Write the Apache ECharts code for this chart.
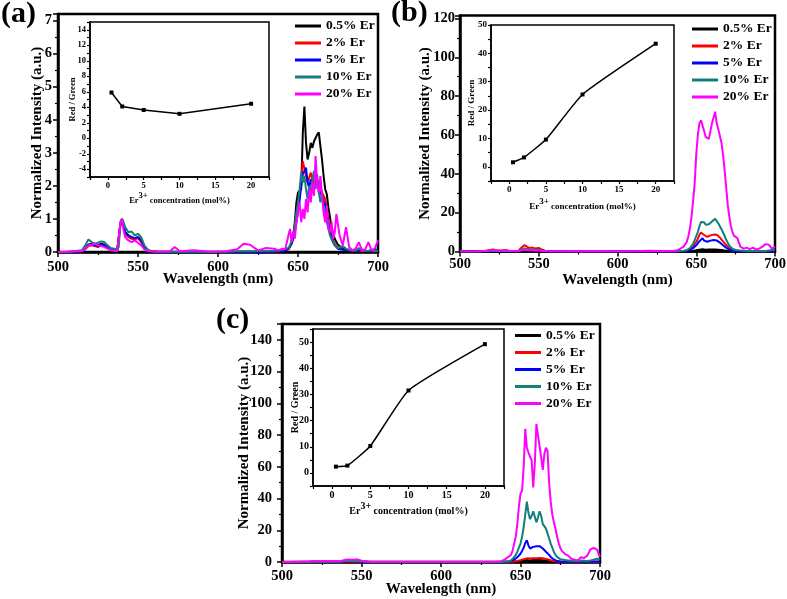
<!DOCTYPE html>
<html><head><meta charset="utf-8">
<script src="https://cdn.jsdelivr.net/npm/echarts/dist/echarts.min.js"></script>
<style>html,body{margin:0;padding:0;background:#fff}#c{width:787px;height:599px}</style>
</head><body><div id="c"></div>
<script>
// ---------- DATA ----------
const wavelength = [
  500,505,510,515,
  517,519,521,523,525,527,529,531,533,535,537,
  538,539,540,541,542,
  544,546,548,550,552,554,556,558,
  562,570,573,576,585,595,605,612,616,620,625,630,635,638,
  640,642,644,
  645,646,647,648,649,650,651,652,653,654,655,656,657,658,659,660,661,662,663,664,665,666,667,668,669,670,671,672,673,674,675,676,
  678,680,682,684,686,688,690,692,694,696,698,700
];
const seriesNames = ['0.5% Er','2% Er','5% Er','10% Er','20% Er'];

// Panel (a)
const a_er05 = [0,0,0.01,0.03, 0.1,0.22,0.25,0.22,0.2,0.25,0.22,0.15,0.1,0.08,0.05, 0.1,0.85,1.0,0.8,0.6, 0.5,0.45,0.42,0.45,0.35,0.15,0.05,0.02, 0.01,0,0,0,0,0,0,0,0.01,0.01,0,0.01,0.02,0.03, 0.04,0.06,0.1,
  0.18,0.3,0.5,0.9,1.5,1.8,1.85,1.9,3.6,4.4,3.3,2.8,3.0,3.3,3.15,3.35,3.3,3.55,3.62,3.2,2.8,2.3,1.9,1.75,1.35,1.05,0.75,0.55,0.4,0.3,0.22,0.16,
  0.1,0.08,0.06,0.05,0.05,0.04,0.04,0.03,0.03,0.03,0.03,0.03];
const a_er2 = [0,0,0,0.02, 0.08,0.18,0.2,0.18,0.15,0.2,0.18,0.12,0.08,0.05,0.04, 0.08,0.8,0.95,0.75,0.55, 0.45,0.4,0.38,0.42,0.3,0.12,0.04,0.02, 0.01,0,0,0,0,0,0,0,0,0,0,0.01,0.01,0.02, 0.03,0.05,0.08,
  0.15,0.25,0.4,0.7,1.0,1.35,1.7,2.2,2.75,2.8,2.3,2.1,2.25,2.4,2.2,2.1,2.25,2.3,2.1,2.0,1.8,1.7,1.6,1.3,0.95,0.7,0.5,0.35,0.25,0.18,0.12,0.1,
  0.08,0.06,0.05,0.04,0.04,0.03,0.03,0.03,0.03,0.02,0.02,0.02];
const a_er5 = [0,0,0,0.02, 0.1,0.22,0.22,0.2,0.18,0.22,0.2,0.13,0.08,0.06,0.05, 0.1,0.85,1.0,0.78,0.6, 0.5,0.45,0.42,0.45,0.35,0.15,0.05,0.02, 0.01,0,0,0,0,0,0,0,0,0,0,0.01,0.01,0.02, 0.03,0.05,0.1,
  0.15,0.25,0.4,0.6,0.9,1.2,1.55,2.0,2.35,2.4,2.55,2.1,1.95,2.2,2.1,2.0,2.2,2.15,1.9,1.85,1.7,1.55,1.4,1.15,0.85,0.6,0.42,0.3,0.2,0.15,0.1,0.08,
  0.07,0.06,0.05,0.05,0.04,0.04,0.08,0.04,0.03,0.03,0.1,0.03];
const a_er10 = [0,0,0.02,0.05, 0.2,0.38,0.3,0.25,0.28,0.32,0.3,0.2,0.12,0.1,0.08, 0.15,0.9,1.0,0.9,0.75, 0.6,0.62,0.5,0.55,0.45,0.2,0.08,0.03, 0.02,0.01,0.01,0.01,0.01,0.01,0.01,0.02,0.02,0.02,0.03,0.03,0.04,0.05, 0.06,0.1,0.12,
  0.2,0.35,0.5,0.8,1.2,1.5,1.9,2.4,2.1,2.3,1.9,1.6,2.0,1.75,2.2,2.45,1.9,2.35,1.8,1.5,1.75,1.3,1.1,0.9,0.7,0.5,0.38,0.28,0.2,0.15,0.12,0.1,
  0.18,0.1,0.06,0.05,0.04,0.12,0.05,0.04,0.03,0.08,0.03,0.04];
const a_er20 = [0,0,0.02,0.03, 0.1,0.2,0.22,0.25,0.2,0.18,0.15,0.1,0.05,0.04,0.03, 0.05,0.9,1.0,0.65,0.45, 0.35,0.3,0.35,0.28,0.2,0.08,0.03,0.02, 0.01,0.02,0.15,0.02,0.05,0.01,0.02,0.08,0.25,0.22,0.05,0.12,0.1,0.05, 0.1,0.08,0.5,
  0.7,0.3,0.6,0.4,0.9,1.2,1.5,0.9,1.3,1.0,1.6,1.2,1.9,1.5,2.1,1.7,2.9,2.0,1.8,2.3,1.7,1.2,0.9,1.4,0.7,0.6,0.9,0.4,0.6,1.15,1.1,0.5,
  0.2,0.75,0.15,0.05,0.1,0.3,0.05,0.08,0.3,0.05,0.1,0.35];

// Panel (b)
const b_er05 = [0,0,0,0, 0.1,0.1,0.1,0.1,0.1,0.1,0.1,0.1,0.1,0.1,0.1, 0.1,0.3,0.4,0.3,0.2, 0.2,0.2,0.2,0.15,0.1,0.05,0,0, 0,0,0,0,0,0,0,0,0,0,0,0,0,0, 0,0,0,
  0.1,0.15,0.2,0.3,0.4,0.6,0.7,0.9,1.0,1.1,1.0,0.9,0.9,1.0,1.0,1.0,1.0,1.05,1.0,0.9,0.85,0.75,0.6,0.5,0.4,0.3,0.2,0.15,0.1,0.05,0.05,0,
  0,0,0,0,0,0,0,0,0,0,0,0];
const b_er2 = [0,0,0.1,0.3, 0.5,0.8,1.0,0.7,0.5,0.6,0.8,0.4,0.3,0.2,0.3, 0.6,2.0,3.0,3.3,2.6, 1.8,2.0,1.6,1.8,1.0,0.4,0.2,0.1, 0.1,0.05,0.05,0,0,0,0,0,0,0,0,0,0.05,0.1, 0.2,0.3,0.5,
  0.8,1.2,1.8,2.5,3.5,5.0,6.5,8.5,9.8,10.2,8.5,8.0,7.5,8.0,8.3,8.5,8.7,9.0,8.6,8.0,7.2,6.2,5.2,4.2,3.3,2.5,1.8,1.2,0.8,0.5,0.35,0.25,
  0.15,0.1,0.1,0.05,0.05,0.05,0.05,0.05,0.05,0.05,0.05,0.05];
const b_er5 = [0,0,0,0.1, 0.2,0.3,0.3,0.3,0.2,0.2,0.3,0.2,0.1,0.1,0.1, 0.2,0.8,1.2,1.4,1.0, 0.8,0.8,0.7,0.7,0.4,0.2,0.1,0.05, 0.05,0,0,0,0,0,0,0,0,0,0,0,0,0.05, 0.1,0.15,0.3,
  0.5,0.8,1.2,1.7,2.4,3.2,4.2,5.3,6.3,6.8,5.6,5.2,5.0,5.3,5.6,5.8,5.9,6.1,5.7,5.2,4.6,3.9,3.2,2.5,1.9,1.4,1.0,0.7,0.45,0.3,0.2,0.15,
  0.1,0.1,0.05,0.05,0.05,0.05,0.05,0.05,0.05,0.05,0.05,0.05];
const b_er10 = [0,0,0,0.1, 0.2,0.4,0.4,0.3,0.3,0.3,0.3,0.2,0.2,0.1,0.1, 0.3,0.9,1.5,1.6,1.2, 1.0,1.0,0.8,0.9,0.5,0.2,0.1,0.05, 0.05,0.05,0,0,0,0,0,0,0,0,0,0.05,0.05,0.1, 0.2,0.4,0.7,
  1.2,1.8,2.7,4.0,5.8,7.9,10.0,13.0,15.2,15.8,15.0,13.8,13.2,14.0,15.0,15.5,16.5,16.8,15.8,14.5,13.0,11.5,9.8,8.0,6.0,4.5,3.0,2.0,1.4,1.0,0.8,0.6,
  0.5,0.4,0.3,0.3,0.2,0.3,0.3,0.2,0.3,0.5,0.8,1.0];
const b_er20 = [0,0,0,0.2, 0.3,0.5,0.8,0.6,0.4,0.5,0.6,0.3,0.2,0.2,0.2, 0.3,0.6,0.8,0.9,0.7, 0.6,0.6,0.5,0.5,0.3,0.2,0.1,0.1, 0.1,0.1,0.2,0.1,0.3,0.1,0.1,0.2,0.3,0.4,0.2,0.3,0.3,0.6, 1.5,2.5,5.0,
  7.9,12,18,26,35,50,60,66,67.5,67,62,59,60,58,62,66,69,72,66,63,62,56,50,42,33,24,18,13,10,8,7.5,7,
  2.5,1.5,2.0,1.2,2.0,1.0,1.5,2.5,3.8,3.5,1.5,2.5];

// Panel (c)
const c_er05 = [0,0,0,0, 0,0,0,0,0,0,0,0,0,0,0, 0,0.1,0.2,0.1,0.1, 0.1,0.1,0.1,0.05,0,0,0,0, 0,0,0,0,0,0,0,0,0,0,0,0,0,0, 0,0,0,
  0,0.1,0.1,0.2,0.3,0.5,0.6,0.8,1.0,1.2,1.1,1.0,1.1,1.2,1.2,1.2,1.3,1.3,1.2,1.1,1.0,0.9,0.7,0.5,0.4,0.3,0.2,0.1,0.1,0,0,0,
  0,0,0,0,0,0,0,0,0,0,0,0];
const c_er2 = [0,0,0,0, 0,0.1,0.1,0.1,0.1,0.1,0.1,0.1,0,0,0, 0.1,0.3,0.4,0.3,0.3, 0.2,0.2,0.2,0.2,0.1,0.05,0,0, 0,0,0,0,0,0,0,0,0,0,0,0,0,0, 0,0.05,0.1,
  0.2,0.3,0.4,0.6,0.9,1.2,1.5,1.8,2.1,2.3,2.2,2.2,2.3,2.4,2.4,2.4,2.5,2.5,2.4,2.3,2.1,1.9,1.7,1.4,1.1,0.8,0.6,0.4,0.3,0.2,0.1,0.1,
  0.05,0,0,0,0,0,0,0,0,0,0,0];
const c_er5 = [0,0,0,0, 0,0.1,0.1,0.1,0.1,0.1,0.1,0.1,0.1,0.1,0.1, 0.2,0.5,0.7,0.6,0.5, 0.4,0.4,0.3,0.3,0.2,0.1,0.05,0, 0,0,0,0,0,0,0,0,0,0,0,0,0,0, 0.1,0.3,0.6,
  1.0,1.5,2.2,3.0,4.0,5.2,7.0,9.0,12.0,13.7,10.5,8.5,8.8,9.5,9.0,10.0,10.5,10.0,9.5,8.5,7.5,6.5,5.5,4.5,3.2,2.2,1.6,1.0,0.6,0.4,0.3,0.2,
  0.2,0.1,0.1,0.1,0.1,0.2,0.3,0.2,0.2,0.3,0.3,0.2];
const c_er10 = [0,0,0,0, 0,0.1,0.1,0.2,0.2,0.2,0.2,0.1,0.1,0.1,0.1, 0.2,0.6,0.9,0.8,0.7, 0.6,0.6,0.5,0.4,0.3,0.1,0.05,0, 0,0,0,0,0,0,0,0,0,0,0,0,0,0, 0.2,0.5,1.0,
  2.0,3.0,4.5,6.5,9.0,11.6,16,22,30,38,31,27,29,32,31,25,28,32,29,24,23,21,18,15,11.6,9,6.3,4.5,3.2,2.2,1.8,1.5,
  1.2,1.0,0.8,0.6,0.8,1.0,0.8,0.6,1.0,1.5,2.0,1.5];
const c_er20 = [0,0,0.2,0.3, 0.3,0.4,0.4,0.5,0.4,0.5,0.6,0.5,0.4,0.5,0.6, 0.8,1.2,1.5,1.6,1.5, 1.4,1.6,1.5,0.8,0.4,0.3,0.2,0.2, 0.1,0.1,0.1,0.1,0.1,0.1,0.1,0.1,0.1,0.1,0.1,0.2,0.3,0.5, 1.5,3.0,4.5,
  7.0,11.6,16,24,35,43,45,60,84,72,69,70,64,47,62,87,80,73,66,58,68,72,70,50,38,30,25,21,16,12,9,7,
  5,4,2,1.5,1,3,2.5,4,8,8.8,8,3];

// Insets: Red/Green ratio vs Er3+ concentration
const erConcentration = [0.5, 2, 5, 10, 20];
const ratioA = [5.9, 4.1, 3.65, 3.15, 4.45];
const ratioB = [1.6, 3.3, 9.6, 25.5, 43.4];
const ratioC = [2.4, 2.8, 10.3, 31.5, 49.2];

const panelLetters = ['(a)', '(b)', '(c)'];

// ---------- CHART ----------
const all = [a_er05,a_er2,a_er5,a_er10,a_er20,b_er05,b_er2,b_er5,b_er10,b_er20,c_er05,c_er2,c_er5,c_er10,c_er20];
all.forEach((a,i)=>{ if (a.length !== wavelength.length) throw new Error('array '+i+' length '+a.length+' != '+wavelength.length); });

const FONT = '"Liberation Serif","Times New Roman",Times,serif';
const colors = ['#000000','#ff0000','#0000ff','#137f7b','#ff00ff'];
const panels = [
  [a_er05,a_er2,a_er5,a_er10,a_er20],
  [b_er05,b_er2,b_er5,b_er10,b_er20],
  [c_er05,c_er2,c_er5,c_er10,c_er20]
];

const grids = [
  {left:58, top:14, width:320, height:238},
  {left:460, top:15.5, width:315, height:236},
  {left:282, top:324, width:318, height:238},
  {left:90, top:22, width:179, height:155},
  {left:491, top:25, width:183, height:156},
  {left:313, top:329, width:191, height:157}
].map((g,i)=>Object.assign(g,{show:true, borderColor:'#000', borderWidth: i<3?2.5:1.5, backgroundColor:'transparent', containLabel:false, outerBoundsMode:'none'}));

const boldTxt = (size)=>({fontFamily:FONT, fontWeight:'bold', fontSize:size, color:'#000'});
const blackLine = (w)=>({color:'#000', width:w});

const mainXMargin = [8,5,7], mainXGap = [19.5,21.5,20];
const mainYGap = [13,27,30], mainYMargin = [6,5,10];
const mainYMax = [7.2,121.5,150], mainYInt = [1,20,20];

const xAxes = [], yAxes = [];
for (let p=0;p<3;p++){
  xAxes.push({gridIndex:p, type:'value', min:500, max:700, interval:50,
    name:'Wavelength (nm)', nameLocation:'middle', nameGap:mainXGap[p], nameTextStyle:boldTxt(15), nameMoveOverlap:false,
    axisLine:{show:true, onZero:false, lineStyle:blackLine(2.5)},
    axisTick:{show:true, inside:false, length:5, lineStyle:blackLine(1.5)},
    minorTick:{show:true, splitNumber:2, length:3, lineStyle:blackLine(1.2)},
    splitLine:{show:false}, minorSplitLine:{show:false},
    axisLabel:Object.assign({margin:mainXMargin[p]}, boldTxt(14.5))});
  const yi = mainYInt[p];
  yAxes.push({gridIndex:p, type:'value', min:0, max:mainYMax[p], interval:yi,
    name:'Normalized Intensity (a.u.)', nameLocation:'middle', nameGap:mainYGap[p], nameTextStyle:boldTxt(15), nameMoveOverlap:false,
    axisLine:{show:true, onZero:false, lineStyle:blackLine(2.5)},
    axisTick:{show:true, inside:false, length:5, lineStyle:blackLine(1.5)},
    minorTick:{show:true, splitNumber:2, length:3, lineStyle:blackLine(1.2)},
    splitLine:{show:false}, minorSplitLine:{show:false},
    axisLabel:Object.assign({margin:mainYMargin[p], showMaxLabel:false, formatter:(v)=> (Math.abs(v % yi) < 1e-9 ? String(v) : '')}, boldTxt(14.5))});
}
const insetFont = [8.5, 9, 10];
const insetYMax = [15, 50, 55], insetYInt = [1,5,5], insetYLab = [2,10,10];
const insetXGap = [14.5,16,15.5], insetYGap = [13,14.5,13];
for (let k=0;k<3;k++){
  const fs = insetFont[k];
  const lab = insetYLab[k];
  xAxes.push({gridIndex:3+k, type:'value', min:-2.5, max:22.5, interval:2.5,
    name:'{b|Er}{s|3+}{b| concentration (mol%)}', nameLocation:'middle', nameGap:insetXGap[k], nameMoveOverlap:false,
    nameTextStyle:{rich:{
      b:{fontFamily:FONT, fontWeight:'bold', fontSize:fs, color:'#000', lineHeight:fs+5, verticalAlign:'bottom'},
      s:{fontFamily:FONT, fontWeight:'bold', fontSize:fs, color:'#000', lineHeight:fs, verticalAlign:'top'}}},
    axisLine:{show:true, onZero:false, lineStyle:blackLine(1.5)},
    axisTick:{show:true, inside:false, length:3, lineStyle:blackLine(1.2)},
    splitLine:{show:false},
    axisLabel:Object.assign({margin:4, formatter:(v)=> (Math.abs(v % 5) < 1e-9 ? String(v) : '')}, boldTxt(fs))});
  yAxes.push({gridIndex:3+k, type:'value', min:-5, max:insetYMax[k], interval:insetYInt[k],
    name:'Red / Green', nameLocation:'middle', nameGap:insetYGap[k], nameTextStyle:boldTxt(fs), nameMoveOverlap:false,
    axisLine:{show:true, onZero:false, lineStyle:blackLine(1.5)},
    axisTick:{show:true, inside:false, length:3, lineStyle:blackLine(1.2)},
    splitLine:{show:false},
    axisLabel:Object.assign({margin:4, showMaxLabel:true, formatter:(v)=> (Math.abs(v % lab) < 1e-9 ? String(v) : '')}, boldTxt(fs))});
}

const series = [];
panels.forEach((sets,p)=>{
  sets.forEach((arr,si)=>{
    series.push({type:'line', name:seriesNames[si], xAxisIndex:p, yAxisIndex:p,
      data: wavelength.map((x,i)=>[x, arr[i]]), symbol:'none', showSymbol:false,
      lineStyle:{color:colors[si], width:2}, itemStyle:{color:colors[si]},
      z:2+si, silent:true, animation:false});
  });
});
[ratioA, ratioB, ratioC].forEach((r,k)=>{
  series.push({type:'line', xAxisIndex:3+k, yAxisIndex:3+k,
    data: erConcentration.map((x,i)=>[x, r[i]]), symbol:'rect', symbolSize:4, showSymbol:true,
    smooth: k===0 ? false : 0.15,
    lineStyle:{color:'#000', width:1.5}, itemStyle:{color:'#000'}, silent:true, animation:false, z:10});
});

const legendPos = [{left:295, top:17.5},{left:692, top:20.5},{left:515, top:327}];
const legends = legendPos.map(pos=>({
  show:true, orient:'vertical', left:pos.left, top:pos.top, padding:0,
  icon:'rect', itemWidth:26, itemHeight:3, itemGap:0, selectedMode:false,
  textStyle:Object.assign({lineHeight:17}, boldTxt(13.5)),
  data: seriesNames
}));

const letterPos = [[1,14],[391,13],[216,320]];
const graphic = panelLetters.map((t,i)=>({type:'text', x:letterPos[i][0], y:letterPos[i][1], z:100,
  style:{text:t, font:'bold 30px '+FONT, fill:'#000', verticalAlign:'middle', align:'left'}}));

const chart = echarts.init(document.getElementById('c'), null, {renderer:'canvas'});
chart.setOption({
  backgroundColor:'#ffffff',
  animation:false,
  grid: grids,
  xAxis: xAxes,
  yAxis: yAxes,
  legend: legends,
  series: series,
  graphic: graphic
});
</script></body></html>
